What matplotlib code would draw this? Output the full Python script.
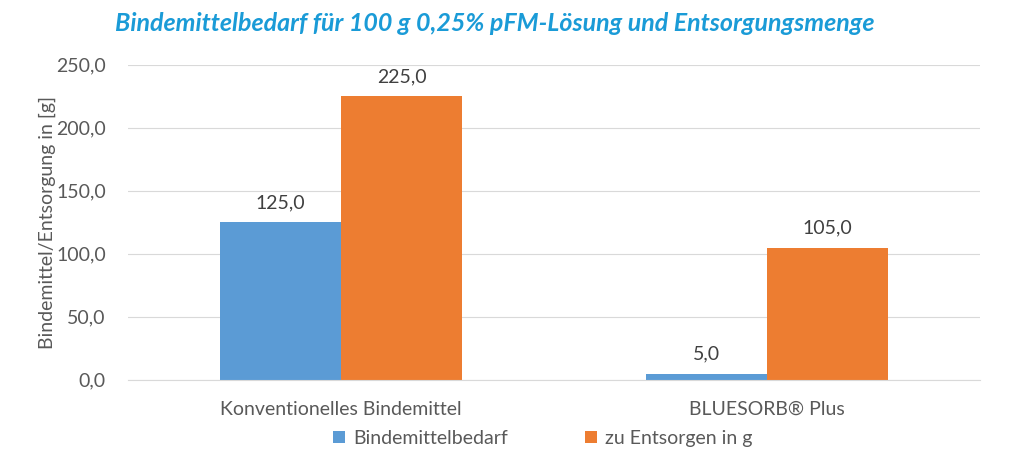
import matplotlib.pyplot as plt
import numpy as np

plt.rcParams['font.family'] = ['Lato', 'DejaVu Sans']

categories = ['Konventionelles Bindemittel', 'BLUESORB® Plus']
bindemittel = [125.0, 5.0]
entsorgen = [225.0, 105.0]
series_names = ['Bindemittelbedarf', 'zu Entsorgen in g']

fig = plt.figure(figsize=(10.24, 4.73), dpi=100)
ax = fig.add_axes([0.125, 0.197, 0.832, 0.666])

x = np.arange(len(categories))
w = 0.284
b1 = ax.bar(x - w / 2, bindemittel, w, color='#5B9BD5', label=series_names[0])
b2 = ax.bar(x + w / 2, entsorgen, w, color='#ED7D31', label=series_names[1])

for bars in (b1, b2):
    for r in bars:
        v = r.get_height()
        ax.annotate(f'{v:.1f}'.replace('.', ','), (r.get_x() + r.get_width() / 2, v),
                    xytext=(0, 8), textcoords='offset points', ha='center', va='bottom',
                    fontsize=14, color='#404040')

ax.set_xlim(-0.5, 1.5)
ax.set_ylim(0, 250)
ax.set_yticks(np.arange(0, 251, 50))
ax.set_yticklabels([f'{v:.1f}'.replace('.', ',') for v in np.arange(0, 251, 50)])
ax.set_xticks(x)
ax.set_xticklabels(categories)
ax.tick_params(axis='both', length=0, labelsize=14, labelcolor='#595959')
ax.tick_params(axis='x', pad=15)
ax.tick_params(axis='y', pad=16)
ax.grid(axis='y', color='#D9D9D9', linewidth=0.8)
ax.set_axisbelow(True)
for s in ['top', 'left', 'right']:
    ax.spines[s].set_visible(False)
ax.spines['bottom'].set_color('#D9D9D9')

ax.set_ylabel('Bindemittel/Entsorgung in [g]', fontsize=14, color='#595959', labelpad=0)

fig.text(0.483, 0.95, 'Bindemittelbedarf für 100 g 0,25% pFM-Lösung und Entsorgungsmenge',
         ha='center', va='center', fontsize=18, fontweight='bold', fontstyle='italic',
         color='#1A9BD7')

fig.legend(handles=[b1, b2], loc='center', bbox_to_anchor=(0.53, 0.073), ncol=2,
           frameon=False, fontsize=14, handlelength=0.6, handleheight=0.6,
           handletextpad=0.4, columnspacing=4, labelcolor='#595959')

fig.savefig('out.png', dpi=100)
